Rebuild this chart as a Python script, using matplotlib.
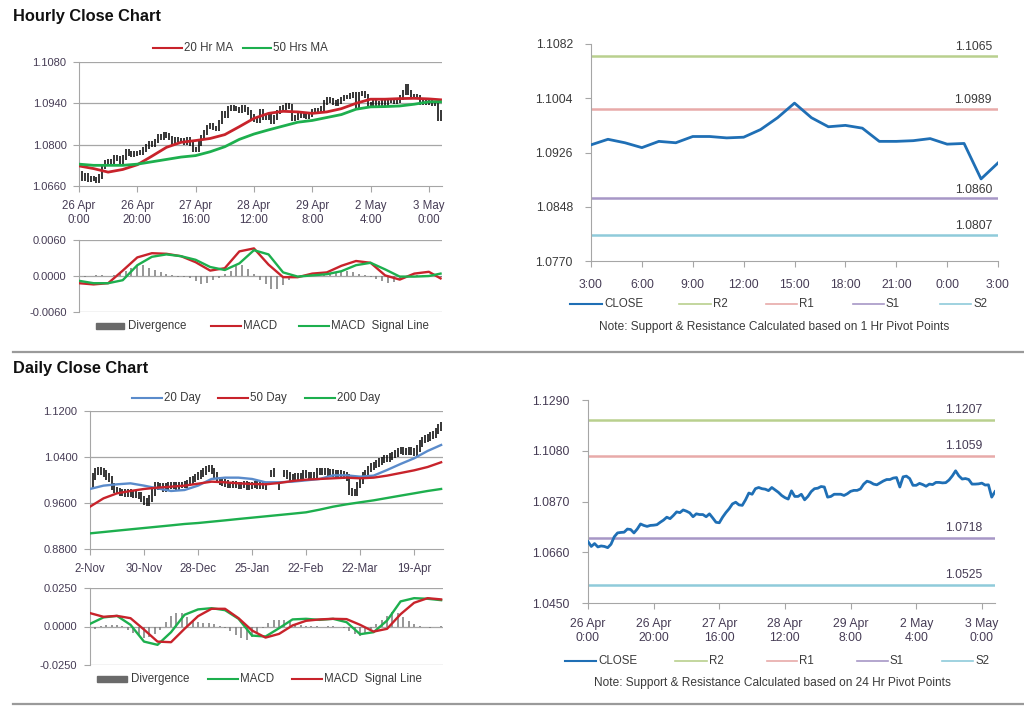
import matplotlib
matplotlib.use('Agg')
import matplotlib.pyplot as plt
from matplotlib.lines import Line2D
from matplotlib.patches import Rectangle
import numpy as np

plt.rcParams['font.family'] = ['Liberation Sans', 'DejaVu Sans']

# ---------------- data ----------------
# hourly closes, 26 Apr 0:00 .. 3 May 3:00 (trading hours)
hr_close = [
    1.0704, 1.0684, 1.0696, 1.0682, 1.0686, 1.0684, 1.0679, 1.0693, 1.0724, 1.0740,
    1.0742, 1.0743, 1.0756, 1.0754, 1.0740, 1.0756, 1.0777, 1.0771, 1.0767, 1.0771,
    1.0772, 1.0774, 1.0784, 1.0793, 1.0805, 1.0799, 1.0812, 1.0827, 1.0824, 1.0835,
    1.0830, 1.0823, 1.0807, 1.0819, 1.0816, 1.0816, 1.0807, 1.0819, 1.0802, 1.0784,
    1.0782, 1.0805, 1.0824, 1.0840, 1.0860, 1.0867, 1.0856, 1.0854, 1.0877, 1.0905,
    1.0900, 1.0923, 1.0928, 1.0923, 1.0921, 1.0915, 1.0928, 1.0918, 1.0908, 1.0895,
    1.0886, 1.0880, 1.0914, 1.0891, 1.0891, 1.0900, 1.0877, 1.0891, 1.0911, 1.0923,
    1.0925, 1.0932, 1.0930, 1.0888, 1.0891, 1.0900, 1.0900, 1.0900, 1.0895, 1.0902,
    1.0912, 1.0916, 1.0916, 1.0922, 1.0942, 1.0954, 1.0950, 1.0942, 1.0939, 1.0947,
    1.0955, 1.0961, 1.0961, 1.0967, 1.0969, 1.0930, 1.0972, 1.0975, 1.0965, 1.0937,
    1.0937, 1.0945, 1.0940, 1.0933, 1.0942, 1.0940, 1.0949, 1.0949, 1.0947, 1.0948,
    1.0959, 1.0976, 1.0997, 1.0976, 1.0963, 1.0965, 1.0961, 1.0942, 1.0942, 1.0943,
    1.0946, 1.0938, 1.0939, 1.0888, 1.0911]
hr_labels = ['26 Apr\n0:00', '26 Apr\n20:00', '27 Apr\n16:00', '28 Apr\n12:00',
             '29 Apr\n8:00', '2 May\n4:00', '3 May\n0:00']

hr_ma_idx = [0, 5, 10, 15, 20, 25, 30, 35, 40, 45, 50, 55, 60, 65, 70, 75, 80, 85,
             90, 95, 100, 105, 110, 115, 120, 124]
hr_ma20 = [1.0728, 1.0719, 1.0707, 1.0716, 1.0732, 1.0761, 1.0791, 1.0808, 1.0814,
           1.0821, 1.0834, 1.0861, 1.0889, 1.0906, 1.0913, 1.0911, 1.0906, 1.0911,
           1.0922, 1.0940, 1.0954, 1.0954, 1.0956, 1.0957, 1.0955, 1.0952]
hr_ma50 = [1.0734, 1.0730, 1.0730, 1.0730, 1.0734, 1.0742, 1.0750, 1.0758, 1.0763,
           1.0776, 1.0793, 1.0818, 1.0836, 1.0850, 1.0863, 1.0876, 1.0882, 1.0892,
           1.0902, 1.0920, 1.0928, 1.0929, 1.0931, 1.0937, 1.0945, 1.0945]
hr_macd = [-0.0012, -0.0014, -0.0012, 0.0009, 0.0031, 0.0038, 0.0037, 0.0033, 0.0023,
           0.0009, 0.0013, 0.0041, 0.0046, 0.0019, -0.0002, -0.0002, 0.0004, 0.0006,
           0.0017, 0.0025, 0.0022, 0.0001, -0.0006, 0.0004, 0.0007, -0.0004]
hr_signal = [-0.0008, -0.0012, -0.0012, -0.0007, 0.0018, 0.0032, 0.0036, 0.0033, 0.0027,
             0.0015, 0.0010, 0.0021, 0.0043, 0.0036, 0.0006, -0.0001, 0.0001, 0.0003,
             0.0008, 0.0018, 0.0022, 0.0011, -0.0001, -0.0001, 0.0000, 0.0004]
# divergence every 2 hours (0, 2, ... 124)
hr_div = [
    -0.0001, -0.0001, 0.0000, 0.0001, 0.0001, 0.0000, 0.0002, 0.0005, 0.0009, 0.0014,
    0.0019, 0.0019, 0.0014, 0.0010, 0.0006, 0.0004, 0.0002, -0.0001, -0.0002, -0.0004,
    -0.0009, -0.0013, -0.0012, -0.0007, -0.0003, 0.0004, 0.0009, 0.0016, 0.0019, 0.0012,
    0.0003, -0.0006, -0.0014, -0.0021, -0.0022, -0.0015, -0.0007, -0.0002, 0.0001, 0.0001,
    0.0001, 0.0001, 0.0002, 0.0003, 0.0005, 0.0007, 0.0008, 0.0007, 0.0004, 0.0001,
    -0.0002, -0.0005, -0.0009, -0.0011, -0.0010, -0.0006, -0.0002, 0.0001, 0.0002, 0.0002,
    0.0002, 0.0001, -0.0002]

# 1 hr pivot chart: last 25 hourly closes
hp_labels = ['3:00', '6:00', '9:00', '12:00', '15:00', '18:00', '21:00', '0:00', '3:00']
hp_levels = {'R2': 1.1065, 'R1': 1.0989, 'S1': 1.0860, 'S2': 1.0807}

# daily closes, 2-Nov .. 3-May (nan = no bar)
nan = float('nan')
d_close = [
    0.9913, 1.0058, 1.0145, 1.0174, 1.0145, 1.0116, 1.0058, 1.0018, 0.9884, 0.9826,
    0.9809, 0.9786, 0.9786, 0.9768, 0.9786, 0.9762, 0.9751, 0.9739, 0.9728, 0.9670,
    0.9623, 0.9612, 0.9681, 0.9786, 0.9902, 0.9884, 0.9884, 0.9855, 0.9884, 0.9902,
    0.9913, 0.9902, 0.9884, 0.9913, 0.9913, 0.9925, 0.9948, 0.9994, 1.0018, 1.0052,
    1.0076, 1.0116, 1.0145, 1.0192, 1.0203, 1.0157, 1.0076, 1.0000, 0.9971, 0.9954,
    0.9942, 0.9913, 0.9913, 0.9925, 0.9913, 0.9902, 0.9913, 0.9925, 0.9884, 0.9902,
    0.9913, 0.9925, 0.9902, 0.9913, 0.9902, 0.9884, nan, 1.0116, 1.0145, nan,
    0.9884, nan, 1.0116, 1.0076, 1.0041, 1.0041, 1.0058, 1.0058, 1.0058, 1.0116,
    1.0087, 1.0058, 1.0076, 1.0087, 1.0145, 1.0145, 1.0157, 1.0145, 1.0134, 1.0128,
    1.0116, 1.0099, 1.0116, 1.0099, 1.0076, 1.0041, 0.9797, 0.9786, 0.9786, 0.9913,
    0.9983, 1.0076, 1.0116, 1.0192, 1.0232, 1.0261, 1.0290, 1.0319, 1.0348, 1.0377,
    1.0377, 1.0406, 1.0435, 1.0464, 1.0505, 1.0522, 1.0493, 1.0493, 1.0522, 1.0493,
    1.0482, 1.0551, 1.0638, 1.0696, 1.0725, 1.0743, 1.0772, 1.0795, 1.0853, 1.0911,
    1.0946]
d_labels = ['2-Nov', '30-Nov', '28-Dec', '25-Jan', '22-Feb', '22-Mar', '19-Apr']

d_ma_idx = list(range(0, 131, 5))
d_ma20 = [0.9844, 0.9902, 0.9925, 0.9942, 0.9902, 0.9855, 0.9809, 0.9826, 0.9902,
          1.0018, 1.0041, 1.0041, 1.0018, 0.9960, 0.9960, 0.9971, 0.9994, 1.0018,
          1.0081, 1.0081, 1.0058, 1.0076, 1.0174, 1.0279, 1.0377, 1.0505, 1.0609]
d_ma50 = [0.9536, 0.9681, 0.9768, 0.9809, 0.9844, 0.9867, 0.9884, 0.9902, 0.9936,
          0.9971, 0.9960, 0.9942, 0.9931, 0.9925, 0.9948, 0.9983, 1.0006, 1.0018,
          1.0029, 1.0041, 1.0029, 1.0041, 1.0076, 1.0122, 1.0168, 1.0226, 1.0308]
d_ma200 = [0.9072, 0.9095, 0.9119, 0.9142, 0.9165, 0.9188, 0.9211, 0.9235, 0.9252,
           0.9275, 0.9298, 0.9322, 0.9345, 0.9368, 0.9391, 0.9414, 0.9438, 0.9484,
           0.9536, 0.9577, 0.9612, 0.9646, 0.9687, 0.9728, 0.9768, 0.9809, 0.9844]
d_macd = [0.0017, 0.0059, 0.0069, 0.0011, -0.0098, -0.0119, -0.0037, 0.0076, 0.0111,
          0.0119, 0.0106, 0.0050, -0.0059, -0.0065, -0.0011, 0.0046, 0.0050, 0.0043,
          0.0050, 0.0028, -0.0050, -0.0037, 0.0039, 0.0163, 0.0184, 0.0180, 0.0171]
d_signal = [0.0087, 0.0063, 0.0069, 0.0054, -0.0020, -0.0098, -0.0102, -0.0015, 0.0067,
            0.0115, 0.0115, 0.0054, -0.0026, -0.0072, -0.0048, 0.0007, 0.0037, 0.0046,
            0.0050, 0.0048, 0.0011, -0.0033, -0.0015, 0.0080, 0.0154, 0.0184, 0.0176]
# divergence every 2 days (0, 2, ... 130)
d_div = [
    -0.0040, -0.0015, 0.0003, 0.0008, 0.0010, 0.0008, 0.0003, -0.0020, -0.0040, -0.0060,
    -0.0075, -0.0070, -0.0050, -0.0020, 0.0030, 0.0070, 0.0090, 0.0085, 0.0060, 0.0040,
    0.0030, 0.0025, 0.0020, 0.0015, 0.0005, -0.0010, -0.0030, -0.0055, -0.0075, -0.0085,
    -0.0070, -0.0040, -0.0010, 0.0020, 0.0040, 0.0045, 0.0040, 0.0030, 0.0015, 0.0008,
    0.0005, 0.0002, 0.0003, 0.0000, 0.0002, 0.0003, -0.0002, -0.0010, -0.0030, -0.0050,
    -0.0060, -0.0045, -0.0015, 0.0015, 0.0040, 0.0070, 0.0093, 0.0085, 0.0060, 0.0035,
    0.0015, 0.0003, -0.0005, -0.0008, -0.0005, 0.0002]

# 24 hr pivot chart uses the hourly closes
dp_levels = {'R2': 1.1207, 'R1': 1.1059, 'S1': 1.0718, 'S2': 1.0525}

# ---------------- style ----------------
W, H = 1024, 706
RED = '#C8232B'
GREEN = '#1DAF4E'
BLUE = '#1F6FB5'
LBLUE = '#5A8BCB'
GRAY = '#a6a6a6'
TXT = '#3a3a3a'
TICKTXT = '#463c55'
DIV = '#7a7a7a'
LVL_COL = {'R2': '#B9D08E', 'R1': '#E8AAA9', 'S1': '#A797C6', 'S2': '#8FCBDA'}

fig = plt.figure(figsize=(W / 100, H / 100), dpi=100)


def fx(x):
    return x / W


def fy(y):
    return 1 - y / H


def box(l, t, r, b):
    return fig.add_axes([l / W, 1 - b / H, (r - l) / W, (b - t) / H])


def style(ax, bottom=True, xpad=6, ypad=5):
    for s in ['top', 'right']:
        ax.spines[s].set_visible(False)
    ax.spines['left'].set_color(GRAY)
    ax.spines['bottom'].set_color(GRAY)
    ax.spines['bottom'].set_visible(bottom)
    ax.tick_params(axis='both', colors=GRAY, labelcolor=TICKTXT, labelsize=8,
                   length=4, width=0.8)
    ax.tick_params(axis='x', pad=xpad)
    ax.tick_params(axis='y', pad=ypad)
    ax.set_facecolor('none')


def grid(ax, vals):
    for v in vals:
        ax.axhline(v, color=GRAY, lw=0.9, zorder=0)


def leg_line(x0, x1, y, color, label, lw=1.5):
    fig.add_artist(Line2D([fx(x0), fx(x1)], [fy(y), fy(y)], color=color, lw=lw))
    fig.text(fx(x1 + 2), fy(y), label, ha='left', va='center', fontsize=8.3, color=TXT)


def leg_box(x0, x1, y, label):
    fig.add_artist(Rectangle((fx(x0), fy(y + 3)), (x1 - x0) / W, 6 / H, color='#6a6a6a'))
    fig.text(fx(x1 + 4), fy(y), label, ha='left', va='center', fontsize=8.3, color=TXT)


def price_bars(ax, closes, wick):
    c = np.array(closes, dtype=float)
    prev = np.r_[c[0], c[:-1]]
    prev = np.where(np.isnan(prev), c, prev)
    lo = np.minimum(prev, c) - wick
    hi = np.maximum(prev, c) + wick
    ax.vlines(np.arange(len(c)), lo, hi, color='black', lw=1.1, zorder=2)


def ytick_fmt(ax, vals):
    ax.set_yticks(vals)
    ax.set_yticklabels(['%.4f' % v for v in vals])


# titles and separators
fig.text(fx(13), fy(16), 'Hourly Close Chart', fontsize=11.8, fontweight='bold',
         ha='left', va='center', color='#111111')
fig.text(fx(13), fy(369), 'Daily Close Chart', fontsize=11.8, fontweight='bold',
         ha='left', va='center', color='#111111')
for yy in (352, 704):
    fig.add_artist(Line2D([fx(13), 1], [fy(yy), fy(yy)], color='#9a9a9a', lw=1.6))

# ---------------- hourly price ----------------
ax1 = box(79, 62, 442, 186)
style(ax1)
grid(ax1, [1.0800, 1.0940, 1.1080])
price_bars(ax1, hr_close, 0.0008)
ax1.plot(hr_ma_idx, hr_ma20, color=RED, lw=2.0, zorder=3)
ax1.plot(hr_ma_idx, hr_ma50, color=GREEN, lw=2.0, zorder=3)
ax1.set_xlim(0, 124.5)
ax1.set_ylim(1.0660, 1.1080)
ytick_fmt(ax1, [1.0660, 1.0800, 1.0940, 1.1080])
ax1.set_xticks(range(0, 121, 20))
ax1.set_xticklabels(hr_labels, fontsize=8.3, linespacing=1.2)
leg_line(153, 182, 48, RED, '20 Hr MA')
leg_line(243, 271, 48, GREEN, '50 Hrs MA')

# ---------------- hourly MACD ----------------
ax2 = box(79, 240, 442, 312)
style(ax2, bottom=False)
grid(ax2, [-0.006, 0.0, 0.006])
ax2.vlines(np.arange(0, 125, 2), 0, hr_div, color=DIV, lw=1.1, zorder=2)
ax2.plot(hr_ma_idx, hr_macd, color=RED, lw=1.7, zorder=3)
ax2.plot(hr_ma_idx, hr_signal, color=GREEN, lw=1.7, zorder=3)
ax2.set_xlim(0, 124.5)
ax2.set_ylim(-0.006, 0.006)
ytick_fmt(ax2, [-0.006, 0.0, 0.006])
ax2.set_xticks([])
leg_box(96, 124, 326, 'Divergence')
leg_line(211, 241, 326, RED, 'MACD')
leg_line(299, 329, 326, GREEN, 'MACD  Signal Line')

# ---------------- 1 hr pivot ----------------
hp_close = hr_close[-25:]
ax3 = box(591, 44, 998, 261)
style(ax3, xpad=9, ypad=9)
for k, v in hp_levels.items():
    ax3.axhline(v, color=LVL_COL[k], lw=1.8, zorder=1)
    ax3.annotate('%.4f' % v, xy=(23.65, v), xytext=(0, 2), textcoords='offset points',
                 ha='right', va='bottom', fontsize=8.8, color=TXT)
ax3.plot(range(len(hp_close)), hp_close, color=BLUE, lw=2.0, zorder=3)
ax3.set_xlim(0, 24)
ax3.set_ylim(1.0770, 1.1082)
ytick_fmt(ax3, [1.0770, 1.0848, 1.0926, 1.1004, 1.1082])
ax3.set_xticks(range(0, 25, 3))
ax3.set_xticklabels(hp_labels, fontsize=8.8)
ax3.tick_params(axis='y', labelsize=8.8, labelcolor=TXT)
leg_line(570, 602, 304, BLUE, 'CLOSE')
leg_line(679, 711, 304, LVL_COL['R2'], 'R2', lw=1.2)
leg_line(766, 797, 304, LVL_COL['R1'], 'R1', lw=1.2)
leg_line(853, 884, 304, LVL_COL['S1'], 'S1', lw=1.2)
leg_line(940, 971, 304, LVL_COL['S2'], 'S2', lw=1.2)
fig.text(fx(774), fy(327), 'Note: Support & Resistance Calculated based on 1 Hr Pivot Points',
         ha='center', va='center', fontsize=8.6, color=TXT)

# ---------------- daily price ----------------
ax4 = box(90, 411, 443, 549)
style(ax4)
grid(ax4, [0.96, 1.04, 1.12])
price_bars(ax4, d_close, 0.006)
ax4.plot(d_ma_idx, d_ma20, color=LBLUE, lw=1.7, zorder=3)
ax4.plot(d_ma_idx, d_ma50, color=RED, lw=1.7, zorder=3)
ax4.plot(d_ma_idx, d_ma200, color=GREEN, lw=1.7, zorder=3)
ax4.set_xlim(0, 130.7)
ax4.set_ylim(0.88, 1.12)
ytick_fmt(ax4, [0.88, 0.96, 1.04, 1.12])
ax4.set_xticks(range(0, 121, 20))
ax4.set_xticklabels(d_labels, fontsize=8.3)
leg_line(132, 162, 398, LBLUE, '20 Day')
leg_line(218, 248, 398, RED, '50 Day')
leg_line(305, 335, 398, GREEN, '200 Day')

# ---------------- daily MACD ----------------
ax5 = box(90, 588, 443, 665)
style(ax5, bottom=False)
grid(ax5, [-0.025, 0.0, 0.025])
ax5.vlines(np.arange(0, 131, 2), 0, d_div, color=DIV, lw=1.1, zorder=2)
ax5.plot(d_ma_idx, d_macd, color=GREEN, lw=1.7, zorder=3)
ax5.plot(d_ma_idx, d_signal, color=RED, lw=1.7, zorder=3)
ax5.set_xlim(0, 130.7)
ax5.set_ylim(-0.025, 0.025)
ytick_fmt(ax5, [-0.025, 0.0, 0.025])
ax5.set_xticks([])
leg_box(97, 127, 679, 'Divergence')
leg_line(208, 238, 679, GREEN, 'MACD')
leg_line(292, 322, 679, RED, 'MACD  Signal Line')

# ---------------- 24 hr pivot ----------------
ax6 = box(588, 400, 995, 603)
style(ax6, xpad=7, ypad=9)
for k, v in dp_levels.items():
    ax6.axhline(v, color=LVL_COL[k], lw=1.8, zorder=1)
    ax6.annotate('%.4f' % v, xy=(120.3, v), xytext=(0, 3), textcoords='offset points',
                 ha='right', va='bottom', fontsize=8.8, color=TICKTXT)
ax6.plot(range(len(hr_close)), hr_close, color=BLUE, lw=2.0, zorder=3)
ax6.set_xlim(0, 124)
ax6.set_ylim(1.0450, 1.1290)
ytick_fmt(ax6, [1.0450, 1.0660, 1.0870, 1.1080, 1.1290])
ax6.set_xticks(range(0, 121, 20))
ax6.set_xticklabels(hr_labels, fontsize=8.8, linespacing=1.2)
ax6.tick_params(axis='y', labelsize=8.8)
leg_line(565, 596, 661, BLUE, 'CLOSE')
leg_line(675, 707, 661, LVL_COL['R2'], 'R2', lw=1.2)
leg_line(767, 797, 661, LVL_COL['R1'], 'R1', lw=1.2)
leg_line(857, 888, 661, LVL_COL['S1'], 'S1', lw=1.2)
leg_line(942, 973, 661, LVL_COL['S2'], 'S2', lw=1.2)
fig.text(fx(772), fy(683), 'Note: Support & Resistance Calculated based on 24 Hr Pivot Points',
         ha='center', va='center', fontsize=8.6, color=TXT)

fig.savefig('out.png', dpi=100)
